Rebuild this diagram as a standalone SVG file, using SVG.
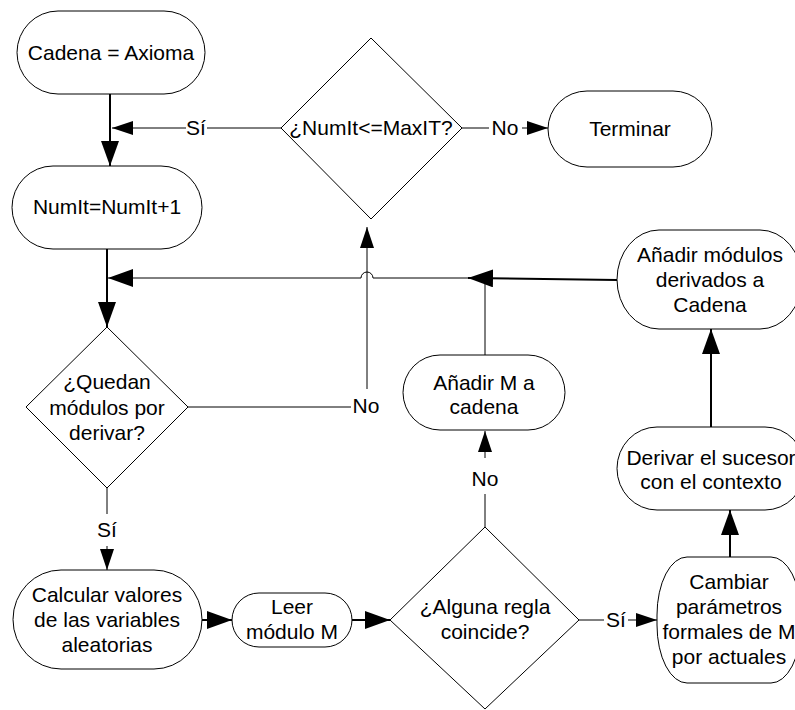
<svg xmlns="http://www.w3.org/2000/svg" width="795" height="710" viewBox="0 0 795 710">
  <style>
    .box { fill: #ffffff; stroke: #000000; stroke-width: 1; }
    .lbl { font-family: "Liberation Sans", Arial, sans-serif; font-size: 21px; fill: #000000; text-anchor: middle; }
    .thin { fill: none; stroke: #000000; stroke-width: 1; }
    .thick { fill: none; stroke: #000000; stroke-width: 2; }
  </style>
  <defs>
    <marker id="big" markerUnits="userSpaceOnUse" markerWidth="26" markerHeight="18" refX="25" refY="9" orient="auto">
      <path d="M0,0 L25,9 L0,18 Z" fill="#000000"/>
    </marker>
    <marker id="small" markerUnits="userSpaceOnUse" markerWidth="22" markerHeight="14" refX="21" refY="7" orient="auto">
      <path d="M0,0 L21,7 L0,14 Z" fill="#000000"/>
    </marker>
  </defs>
  <rect width="795" height="710" fill="#ffffff"/>

  <!-- connectors -->
  <g id="connectors">
    <!-- Cadena = Axioma -> NumIt=NumIt+1 -->
    <path class="thick" d="M110,94 V166" marker-end="url(#big)"/>
    <!-- ¿NumIt<=MaxIT? : Sí -->
    <path class="thin" d="M281,128 H207"/>
    <path class="thin" d="M186,128 H112" marker-end="url(#small)"/>
    <text class="lbl" x="196" y="135">Sí</text>
    <!-- ¿NumIt<=MaxIT? : No -->
    <path class="thin" d="M462,128 H489"/>
    <path class="thin" d="M522,128 H548" marker-end="url(#small)"/>
    <text class="lbl" x="505" y="135">No</text>
    <!-- NumIt=NumIt+1 -> ¿Quedan...? -->
    <path class="thick" d="M107,249 V327" marker-end="url(#big)"/>
    <!-- ¿Quedan...? : No -> back to ¿NumIt<=MaxIT? -->
    <path class="thin" d="M188,407 H351"/>
    <text class="lbl" x="366" y="413">No</text>
    <path class="thin" d="M367,389 V227" marker-end="url(#small)"/>
    <!-- ¿Quedan...? : Sí -->
    <path class="thin" d="M107,488 V514"/>
    <text class="lbl" x="107" y="537">Sí</text>
    <path class="thin" d="M107,546 V570" marker-end="url(#small)"/>
    <!-- Calcular -> Leer -> ¿Alguna regla coincide? -->
    <path class="thick" d="M202,620 H232" marker-end="url(#big)"/>
    <path class="thick" d="M352,620 H390" marker-end="url(#big)"/>
    <!-- ¿Alguna regla coincide? : No -->
    <path class="thin" d="M485,527 V494"/>
    <text class="lbl" x="485" y="486">No</text>
    <path class="thin" d="M485,458 V431" marker-end="url(#small)"/>
    <!-- ¿Alguna regla coincide? : Sí -->
    <path class="thin" d="M579,620 H604"/>
    <text class="lbl" x="616" y="627">Sí</text>
    <path class="thin" d="M628,620 H657" marker-end="url(#small)"/>
    <!-- Cambiar -> Derivar -> Añadir módulos -->
    <path class="thick" d="M730,557 V510" marker-end="url(#big)"/>
    <path class="thick" d="M711,427 V329" marker-end="url(#big)"/>
    <!-- Añadir módulos derivados -> loop line -->
    <path class="thick" d="M617,280 L468,278" marker-end="url(#big)"/>
    <!-- Añadir M a cadena -> loop back to ¿Quedan...? (hop over the No line) -->
    <path class="thin" d="M485,355 V278 H373 A6,6 0 0 0 361,278 H108" marker-end="url(#big)"/>
  </g>

  <!-- nodes -->
  <g id="cadena-axioma">
    <rect class="box" x="17" y="11" width="188" height="83" rx="41" ry="41.5"/>
    <text class="lbl" x="111" y="60">Cadena = Axioma</text>
  </g>
  <g id="numit-max">
    <polygon class="box" points="371,38 462,128 371,219 281,128"/>
    <text class="lbl" x="371" y="135">¿NumIt&lt;=MaxIT?</text>
  </g>
  <g id="terminar">
    <rect class="box" x="548" y="91" width="164" height="76" rx="39" ry="38"/>
    <text class="lbl" x="630" y="136">Terminar</text>
  </g>
  <g id="numit-inc">
    <rect class="box" x="12" y="166" width="190" height="83" rx="41" ry="41.5"/>
    <text class="lbl" x="107" y="214">NumIt=NumIt+1</text>
  </g>
  <g id="anadir-derivados">
    <rect class="box" x="617" y="230" width="185" height="99" rx="42" ry="49.5"/>
    <text class="lbl" x="710" y="262">Añadir módulos</text>
    <text class="lbl" x="710" y="287">derivados a</text>
    <text class="lbl" x="710" y="312">Cadena</text>
  </g>
  <g id="quedan">
    <polygon class="box" points="107,327 188,407 107,488 26,407"/>
    <text class="lbl" x="107" y="389">¿Quedan</text>
    <text class="lbl" x="107" y="415">módulos por</text>
    <text class="lbl" x="107" y="440">derivar?</text>
  </g>
  <g id="anadir-m">
    <rect class="box" x="403" y="355" width="162" height="75" rx="37" ry="37.5"/>
    <text class="lbl" x="484" y="390">Añadir M a</text>
    <text class="lbl" x="484" y="414">cadena</text>
  </g>
  <g id="derivar">
    <rect class="box" x="617" y="427" width="188" height="83" rx="40" ry="41.5"/>
    <text class="lbl" x="711" y="465">Derivar el sucesor</text>
    <text class="lbl" x="711" y="489">con el contexto</text>
  </g>
  <g id="calcular">
    <rect class="box" x="13" y="570" width="189" height="99" rx="48" ry="49.5"/>
    <text class="lbl" x="107" y="602">Calcular valores</text>
    <text class="lbl" x="107" y="627">de las variables</text>
    <text class="lbl" x="107" y="652">aleatorias</text>
  </g>
  <g id="leer">
    <rect class="box" x="232" y="593" width="120" height="54" rx="27" ry="27"/>
    <text class="lbl" x="292" y="614">Leer</text>
    <text class="lbl" x="292" y="639">módulo M</text>
  </g>
  <g id="alguna-regla">
    <polygon class="box" points="485,527 579,620 485,709 390,620"/>
    <text class="lbl" x="485" y="614">¿Alguna regla</text>
    <text class="lbl" x="485" y="639">coincide?</text>
  </g>
  <g id="cambiar">
    <rect class="box" x="657" y="557" width="144" height="126" rx="30" ry="58"/>
    <text class="lbl" x="729" y="589">Cambiar</text>
    <text class="lbl" x="729" y="614">parámetros</text>
    <text class="lbl" x="729" y="639">formales de M</text>
    <text class="lbl" x="729" y="664">por actuales</text>
  </g>
</svg>
